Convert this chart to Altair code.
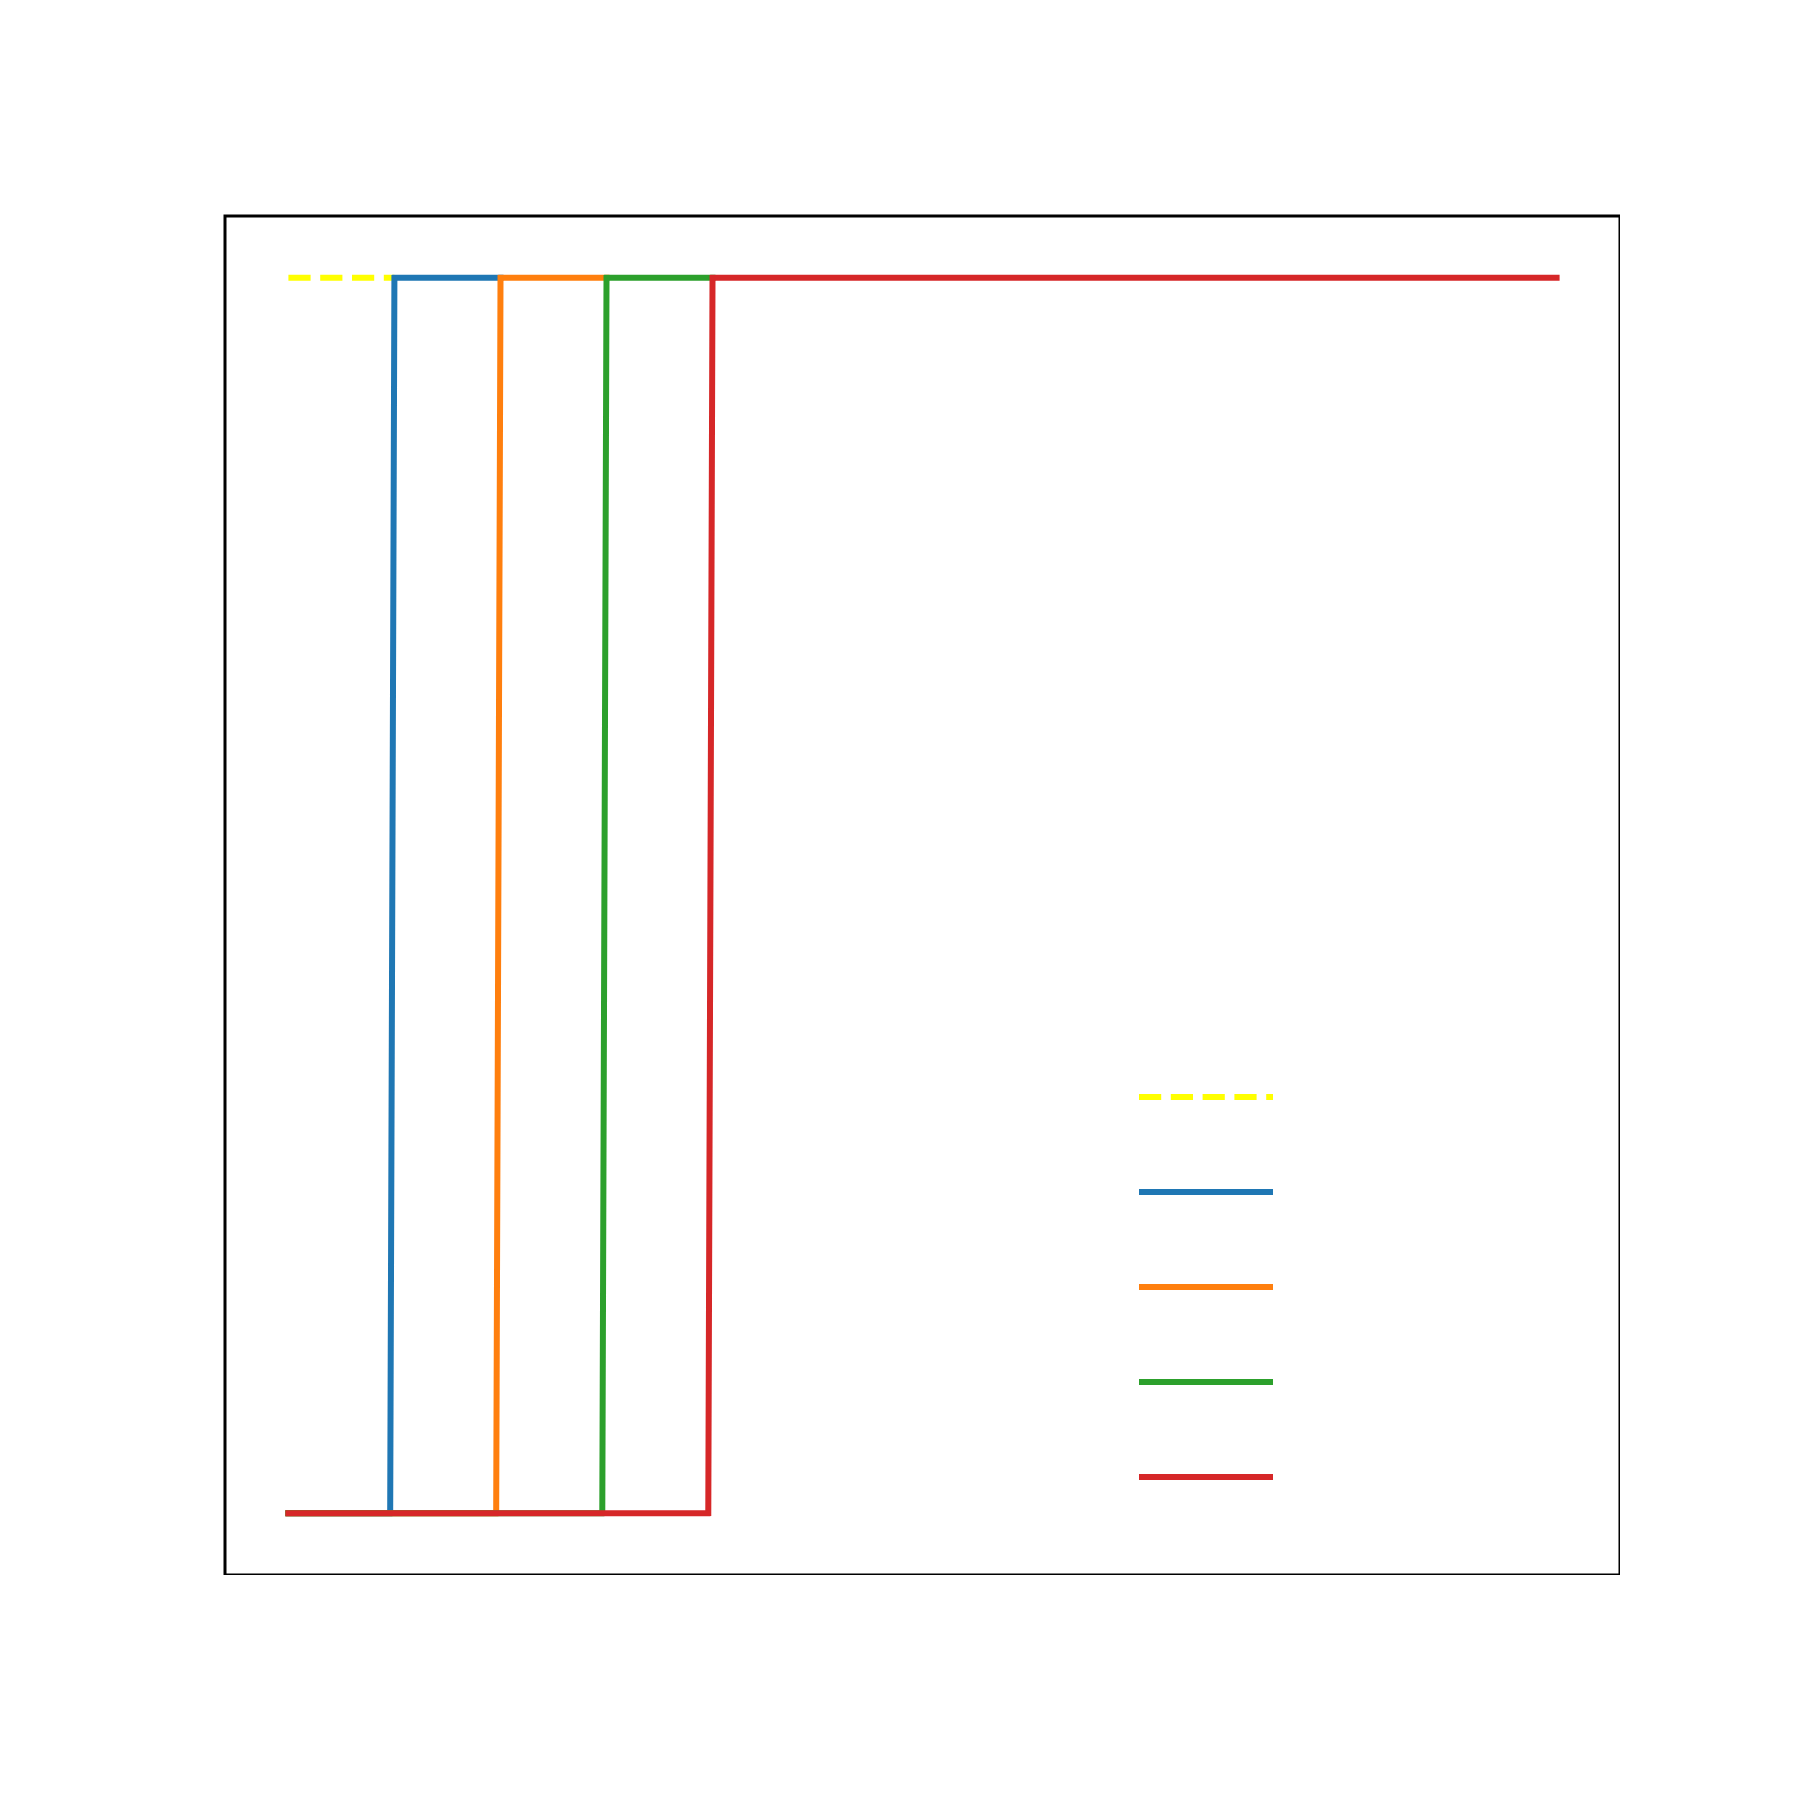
import altair as alt
import pandas as pd

# Series (legend order / draw order)
series_names = ["reference", "step 1", "step 2", "step 3", "step 4"]
series_colors = ["#ffff00", "#1f77b4", "#ff7f0e", "#2ca02c", "#d62728"]
series_dash = [[22.2, 9.6], [1, 0], [1, 0], [1, 0], [1, 0]]

# Vertices of each series
ref_x = [0.0, 1.003]
ref_y = [1, 1]
s1_x = [0.0, 0.963, 1.003, 2.007]
s1_y = [0, 0, 1, 1]
s2_x = [0.0, 1.966, 2.007, 3.010]
s2_y = [0, 0, 1, 1]
s3_x = [0.0, 2.970, 3.010, 4.013]
s3_y = [0, 0, 1, 1]
s4_x = [0.0, 3.973, 4.013, 12.0]
s4_y = [0, 0, 1, 1]

xs = [ref_x, s1_x, s2_x, s3_x, s4_x]
ys = [ref_y, s1_y, s2_y, s3_y, s4_y]

rows = []
for name, xx, yy in zip(series_names, xs, ys):
    for i, (a, b) in enumerate(zip(xx, yy)):
        rows.append({"series": name, "x": a, "y": b, "i": i})
df = pd.DataFrame(rows)

x_enc = alt.X("x:Q", scale=alt.Scale(domain=[-0.6, 12.6], nice=False, zero=False), axis=None)
y_enc = alt.Y("y:Q", scale=alt.Scale(domain=[-0.05, 1.05], nice=False, zero=False), axis=None)

legend = alt.Legend(
    orient="none", legendX=911, legendY=833.5, title=None,
    symbolType="stroke", symbolSize=17956, symbolStrokeWidth=6,
    clipHeight=95, rowPadding=0, padding=0, labelExpr="''",
    labelFontSize=1, symbolOffset=0, labelOffset=0,
)
color_enc = alt.Color("series:N", scale=alt.Scale(domain=series_names, range=series_colors),
                      legend=legend, sort=series_names)
dash_enc = alt.StrokeDash("series:N", scale=alt.Scale(domain=series_names, range=series_dash),
                          legend=legend, sort=series_names)

base = alt.Chart(df).encode(x=x_enc, y=y_enc, color=color_enc, strokeDash=dash_enc,
                            order=alt.Order("i:Q"))

ref_layer = base.transform_filter(alt.datum.series == series_names[0]).mark_line(
    strokeWidth=6, strokeCap="butt", strokeJoin="round")
step_layer = base.transform_filter(alt.datum.series != series_names[0]).mark_line(
    strokeWidth=6, strokeCap="square", strokeJoin="round")

chart = alt.layer(ref_layer, step_layer).properties(
    width=1395, height=1359,
    padding={"left": 217, "top": 208, "right": 0, "bottom": 0},
    autosize=alt.AutoSizeParams(type="none"),
    background="white",
).configure_view(stroke="black", strokeWidth=3)

chart.save("out.html", embed_options={"renderer": "svg", "actions": False})
